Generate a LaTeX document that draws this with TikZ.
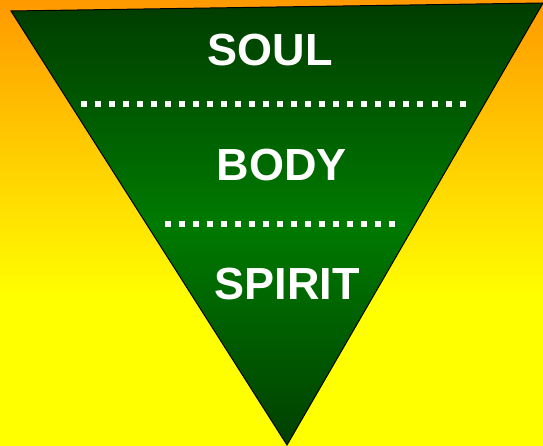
\documentclass[tikz,border=0pt]{standalone}
\usepackage{fontspec}
\setmainfont{Liberation Sans}
\usepackage{tikz}
\usepackage{xcolor}
\usetikzlibrary{positioning,calc}
\definecolor{skyorange}{HTML}{FF9900}
\definecolor{skyyellow}{HTML}{FFFF00}
\definecolor{leafdark}{HTML}{003C00}
\definecolor{leafmid}{HTML}{007A00}
\definecolor{leafdeep}{HTML}{004000}

\begin{document}
\begin{tikzpicture}[x=1pt,y=-1pt,
    label text/.style={font=\fontsize{45}{45}\selectfont\bfseries,text=white,inner sep=0pt}]
  \useasboundingbox (0,0) rectangle (543,446);
  % background
  \shade[top color=skyorange,bottom color=skyyellow] (0,0) rectangle (543,300);
  \fill[skyyellow] (0,299.5) rectangle (543,446);
  % funnel
  \coordinate (tl) at (11,11);
  \coordinate (tr) at (543,3);
  \coordinate (tip) at (287,445);
  \shade[top color=leafdark,bottom color=leafdeep,middle color=leafmid,draw=black,line width=1pt]
    (tl) -- (tr) -- (tip) -- cycle;
  % separators
  \foreach \i in {0,...,27}
    \fill[white] ({80.5+14.04*\i},101.5) rectangle ++(6,6);
  \foreach \i in {0,...,16}
    \fill[white] ({164.5+14.06*\i},221.5) rectangle ++(6,6);
  \node[label text] (soul) at (270,50) {SOUL};
  \node[label text] (body) at (282,165) {BODY};
  \node[label text] (spirit) at (287,284) {SPIRIT};
\end{tikzpicture}
\end{document}
